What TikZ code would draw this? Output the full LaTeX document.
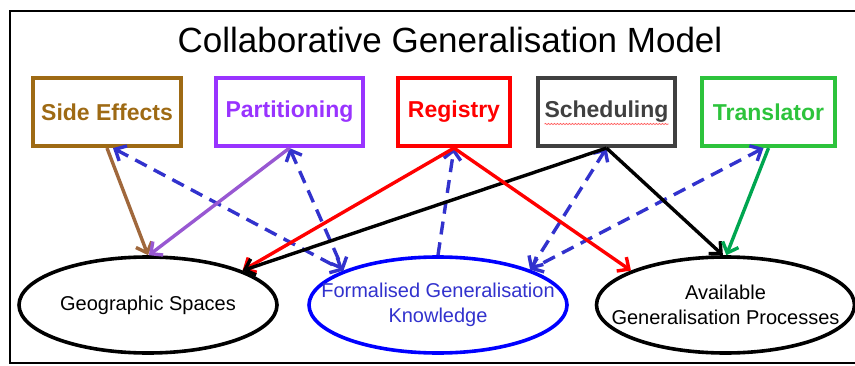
\documentclass[tikz,border=0pt]{standalone}
\usepackage{fontspec}
\setmainfont{Liberation Sans}
\usetikzlibrary{shapes, positioning, arrows.meta, decorations.pathmorphing}

\definecolor{sebrown}{RGB}{158,106,20}
\definecolor{searrow}{RGB}{160,104,60}
\definecolor{papurple}{RGB}{153,51,255}
\definecolor{paarrow}{RGB}{152,88,210}
\definecolor{scgrey}{RGB}{64,64,64}
\definecolor{trgreen}{RGB}{45,195,60}
\definecolor{trarrow}{RGB}{0,166,80}
\definecolor{fkblue}{RGB}{0,0,255}
\definecolor{dashblue}{RGB}{50,50,205}

\begin{document}
\begin{tikzpicture}[x=1pt, y=1pt, >={Straight Barb[length=9pt,width=17pt]}]
\tikzstyle{module}=[draw, rectangle, line width=3.6pt, minimum height=68.5pt, font=\fontsize{23}{26}\selectfont\bfseries]
\tikzstyle{store}=[draw, ellipse, line width=3.6pt, minimum width=258pt, minimum height=96pt, inner xsep=-30pt, align=center, font=\fontsize{20}{25}\selectfont]
\tikzstyle{link}=[line width=3.4pt, ->]
\tikzstyle{feed}=[line width=3.4pt, dashblue, dash pattern=on 13pt off 8pt, <->]
\useasboundingbox (0,0) rectangle (855,365);
\draw[line width=2.5pt] (855,354) -| (10,2) -- (855,2);

\node[font=\fontsize{35}{40}\selectfont] (T) at (450,325) {Collaborative Generalisation Model};

\node[module, draw=sebrown, text=sebrown, minimum width=148.5pt] (SE) at (107,253) {Side Effects};
\node[module, draw=papurple, text=papurple, minimum width=147.5pt] (PA) at (289.5,253) {Partitioning};
\node[module, draw=red, text=red, minimum width=112.5pt] (RE) at (454,253) {Registry};
\node[module, draw=scgrey, text=scgrey, minimum width=137.5pt] (SC) at (606.5,253) {Scheduling};
\node[module, draw=trgreen, text=trgreen, minimum width=133.5pt] (TR) at (768.5,253) {Translator};

\node[store] (GS) at (148,60) {Geographic Spaces};
\node[store, draw=fkblue, text=dashblue] (FK) at (438,60) {Formalised Generalisation\\Knowledge};
\node[store] (AP) at (725.5,60) {Available\\Generalisation Processes};

% spelling underline
\draw[red!65, line width=0.7pt, decorate, decoration={snake, amplitude=0.6pt, segment length=3pt}] ([xshift=-62pt,yshift=-12pt]SC.center) -- ([xshift=62pt,yshift=-12pt]SC.center);

\path[feed]
([xshift=6pt]SE.south) edge (FK.160)
(PA.south) edge (FK.160)
(SC.south) edge (FK.21)
([xshift=-5pt]TR.south) edge (FK.21);
\draw[line width=3.4pt, dashblue, dash pattern=on 13pt off 8pt, ->] (FK.north) -- (RE.south);

\path[link]
(SE.south) edge[searrow] (GS.north)
(PA.south) edge[paarrow] (GS.89)
(RE.south) edge[red] (GS.20)
(SC.south) edge[black] (GS.20)
(RE.south) edge[red] (AP.160)
(SC.south) edge[black] (AP.93)
(TR.south) edge[trarrow] (AP.89);
\end{tikzpicture}
\end{document}
